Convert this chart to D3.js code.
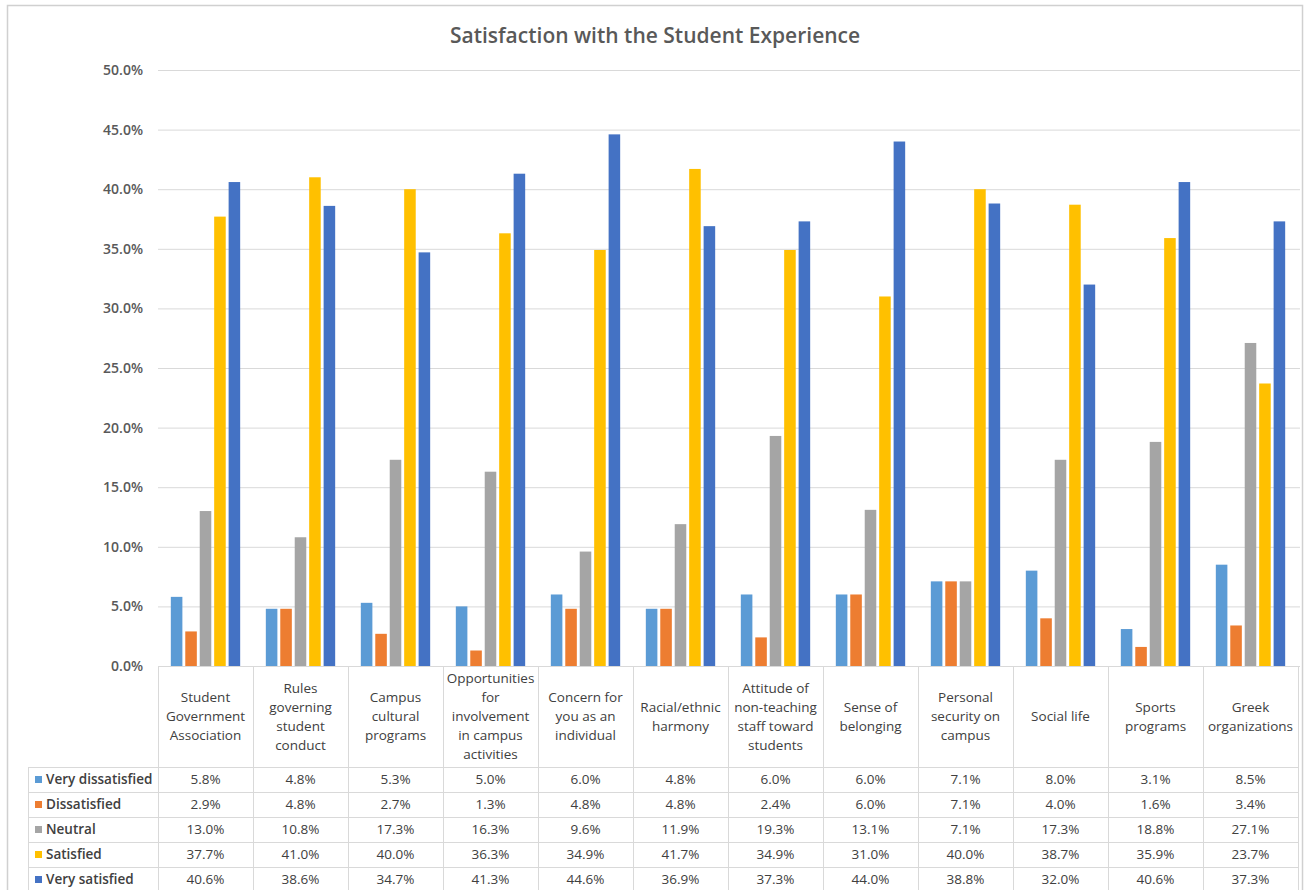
<!DOCTYPE html>
<html>
<head>
<meta charset="utf-8">
<script src="https://cdn.jsdelivr.net/npm/d3@7"></script>
<style>
  body { margin: 0; background: #fff; }
  svg { display: block; }
  text { font-family: "Open Sans", "Noto Sans", sans-serif; }
</style>
</head>
<body>
<svg id="chart" width="1305" height="890"></svg>
<script>
// Category labels, pre-wrapped into the lines shown in the table header
const categories = [
  ["Student", "Government", "Association"],
  ["Rules", "governing", "student", "conduct"],
  ["Campus", "cultural", "programs"],
  ["Opportunities", "for", "involvement", "in campus", "activities"],
  ["Concern for", "you as an", "individual"],
  ["Racial/ethnic", "harmony"],
  ["Attitude of", "non-teaching", "staff toward", "students"],
  ["Sense of", "belonging"],
  ["Personal", "security on", "campus"],
  ["Social life"],
  ["Sports", "programs"],
  ["Greek", "organizations"]
];

const seriesNames = ["Very dissatisfied", "Dissatisfied", "Neutral", "Satisfied", "Very satisfied"];
const seriesColors = ["#5B9BD5", "#ED7D31", "#A5A5A5", "#FFC000", "#4472C4"];

// Percent of respondents per category
const veryDissatisfied = [5.8, 4.8, 5.3, 5.0, 6.0, 4.8, 6.0, 6.0, 7.1, 8.0, 3.1, 8.5];
const dissatisfied     = [2.9, 4.8, 2.7, 1.3, 4.8, 4.8, 2.4, 6.0, 7.1, 4.0, 1.6, 3.4];
const neutral          = [13.0, 10.8, 17.3, 16.3, 9.6, 11.9, 19.3, 13.1, 7.1, 17.3, 18.8, 27.1];
const satisfied        = [37.7, 41.0, 40.0, 36.3, 34.9, 41.7, 34.9, 31.0, 40.0, 38.7, 35.9, 23.7];
const verySatisfied    = [40.6, 38.6, 34.7, 41.3, 44.6, 36.9, 37.3, 44.0, 38.8, 32.0, 40.6, 37.3];

const yTicks = [0, 5, 10, 15, 20, 25, 30, 35, 40, 45, 50];

const seriesValues = [veryDissatisfied, dissatisfied, neutral, satisfied, verySatisfied];
const catKeys = categories.map((c, i) => i);

const svg = d3.select("#chart");

const plot = { left: 158, right: 1298, top: 70, bottom: 666 };
const table = { headerBottom: 767, rowH: 25, legendLeft: 28 };

const gridColor = "#d9d9d9";
const textColor = "#404040";
const fs = 13.5;

// Outer chart frame
svg.append("rect")
  .attr("x", 7.5).attr("y", 5.5)
  .attr("width", 1295).attr("height", 900)
  .attr("fill", "#fff")
  .attr("stroke", "#d0d0d0").attr("stroke-width", 1.5);

// Scales
const x = d3.scaleBand().domain(catKeys).range([plot.left, plot.right]).padding(0);
const bw = x.bandwidth();
const xs = d3.scaleBand().domain(d3.range(seriesNames.length))
  .range([bw * 0.135, bw * 0.865]).paddingInner(0.2).paddingOuter(0);
const y = d3.scaleLinear().domain([0, 50]).range([plot.bottom, plot.top]);

// Title
svg.append("text")
  .attr("x", 655).attr("y", 43)
  .attr("text-anchor", "middle")
  .attr("font-size", 21).attr("font-weight", 600)
  .attr("fill", "#595959")
  .text("Satisfaction with the Student Experience");

// Horizontal gridlines and y labels
const yAxis = d3.axisLeft(y).tickValues(yTicks)
  .tickFormat(d => d.toFixed(1) + "%")
  .tickSize(-(plot.right + 2 - plot.left)).tickPadding(15);
const gy = svg.append("g").attr("transform", `translate(${plot.left},0)`).call(yAxis);
gy.select(".domain").remove();
gy.selectAll(".tick line").attr("stroke", gridColor).attr("stroke-width", 1);
gy.selectAll(".tick text")
  .attr("fill", "#595959").attr("font-size", 14).attr("font-weight", 600)
  .attr("font-family", "'Open Sans', sans-serif");

// Bars
const groups = svg.append("g").selectAll("g")
  .data(catKeys).join("g")
  .attr("transform", d => `translate(${x(d)},0)`);
groups.selectAll("rect")
  .data(ci => seriesValues.map((vals, si) => ({ si, v: vals[ci] })))
  .join("rect")
  .attr("x", d => xs(d.si))
  .attr("width", xs.bandwidth())
  .attr("y", d => y(d.v))
  .attr("height", d => y(0) - y(d.v))
  .attr("fill", d => seriesColors[d.si]);

// Data table
const tg = svg.append("g");
const nRows = seriesNames.length;
const tableBottom = table.headerBottom + nRows * table.rowH;

// vertical cell borders
d3.range(categories.length + 1).forEach(i => {
  const xx = i < categories.length ? x(i) : plot.right;
  tg.append("line")
    .attr("x1", xx + 0.5).attr("x2", xx + 0.5)
    .attr("y1", plot.bottom).attr("y2", tableBottom)
    .attr("stroke", gridColor);
});
tg.append("line")
  .attr("x1", table.legendLeft + 0.5).attr("x2", table.legendLeft + 0.5)
  .attr("y1", table.headerBottom).attr("y2", tableBottom)
  .attr("stroke", gridColor);

// horizontal cell borders
tg.append("line")
  .attr("x1", plot.left).attr("x2", plot.right)
  .attr("y1", plot.bottom + 0.5).attr("y2", plot.bottom + 0.5)
  .attr("stroke", gridColor);
d3.range(nRows + 1).forEach(r => {
  const yy = table.headerBottom + r * table.rowH + 0.5;
  tg.append("line")
    .attr("x1", table.legendLeft).attr("x2", plot.right)
    .attr("y1", yy).attr("y2", yy)
    .attr("stroke", gridColor);
});

// header labels
const lineH = 19;
const headerMid = (plot.bottom + table.headerBottom) / 2;
categories.forEach((lines, ci) => {
  const cx = x(ci) + bw / 2;
  const t = tg.append("text")
    .attr("text-anchor", "middle")
    .attr("font-size", fs).attr("fill", textColor);
  lines.forEach((ln, li) => {
    t.append("tspan")
      .attr("x", cx)
      .attr("y", headerMid + (li - (lines.length - 1) / 2) * lineH)
      .attr("dy", "0.35em")
      .text(ln);
  });
});

// row legend + values
seriesNames.forEach((name, si) => {
  const rowMid = table.headerBottom + si * table.rowH + table.rowH / 2;
  tg.append("rect")
    .attr("x", 35).attr("y", rowMid - 3.5)
    .attr("width", 7).attr("height", 7)
    .attr("fill", seriesColors[si]);
  tg.append("text")
    .attr("x", 46).attr("y", rowMid).attr("dy", "0.35em")
    .attr("font-size", fs).attr("font-weight", 600).attr("fill", textColor)
    .text(name);
  seriesValues[si].forEach((v, ci) => {
    tg.append("text")
      .attr("x", x(ci) + bw / 2).attr("y", rowMid).attr("dy", "0.35em")
      .attr("text-anchor", "middle")
      .attr("font-size", fs).attr("fill", textColor)
      .text(v.toFixed(1) + "%");
  });
});
</script>
</body>
</html>
